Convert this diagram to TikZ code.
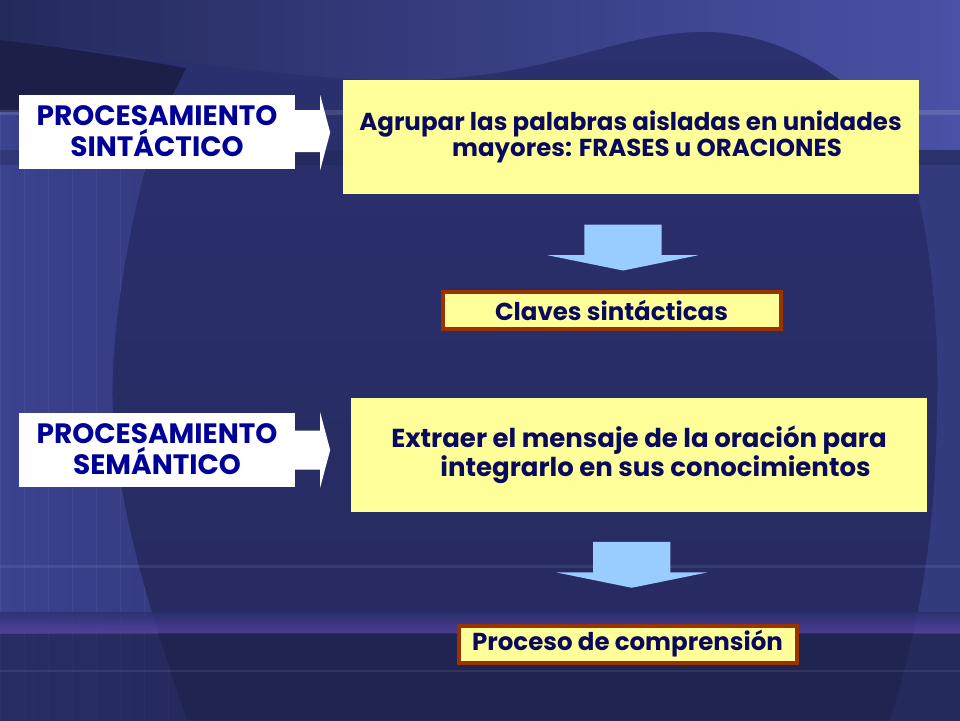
\documentclass[tikz,border=0pt]{standalone}
\usepackage{fontspec}
\setmainfont{Poppins}
\usetikzlibrary{arrows.meta, positioning, shapes.arrows, calc}

\definecolor{fondo}{HTML}{2B3070}
\definecolor{fondobajo}{HTML}{262A5E}
\definecolor{cielo}{HTML}{4A51A6}
\definecolor{cielooscuro}{HTML}{252A5C}
\definecolor{lateral}{HTML}{343A7E}
\definecolor{lateralclaro}{HTML}{3B4290}
\definecolor{oscuro}{HTML}{1C2048}
\definecolor{crema}{HTML}{FFFF99}
\definecolor{celeste}{HTML}{99CCFF}
\definecolor{ladrillo}{HTML}{993300}
\definecolor{marino}{HTML}{0A0A5C}
\definecolor{azulvivo}{HTML}{000099}

\begin{document}
\begin{tikzpicture}[
x=1pt, y=-1pt,
every node/.style={font=\bfseries\fontsize{25}{24}\selectfont, align=center, inner sep=0pt},
etiqueta/.style={rectangle, fill=white, text=azulvivo, font=\bfseries\fontsize{28}{31}\selectfont, minimum width=276pt, minimum height=74pt},
cuadro/.style={rectangle, fill=crema, text=marino, minimum width=576pt, minimum height=114pt},
clave/.style={rectangle, fill=crema, draw=ladrillo, line width=4pt, text=marino, font=\bfseries\fontsize{24.5}{24}\selectfont, minimum width=338pt, minimum height=37pt},
bajada/.style={single arrow, fill=celeste, rotate=-90, inner xsep=0pt, inner ysep=38.5pt, minimum height=46pt, single arrow head extend=36.5pt, single arrow tip angle=157},
flechablanca/.style={fill=white}
]

\shade[top color=fondo, bottom color=fondobajo] (0,0) rectangle (960,720);
\shade[left color=cielooscuro, right color=cielo] (0,0) -- (960,0) -- (960,150) -- (905,150) .. controls (870,95) and (800,35) .. (710,32) .. controls (620,30) and (560,75) .. (420,80) .. controls (330,84) and (200,62) .. (0,40) -- cycle;
\fill[oscuro] (0,40) .. controls (70,48) and (130,58) .. (186,68) .. controls (178,85) and (170,100) .. (163,112) -- (0,112) -- cycle;
\begin{scope}
\clip (0,112) -- (163,112) .. controls (140,170) and (108,320) .. (113,413) .. controls (118,520) and (160,640) .. (187,720) -- (0,720) -- cycle;
\shade[left color=lateralclaro, right color=lateral] (0,112) rectangle (190,720);
\draw[white, opacity=0.05, step=24] (0,112) grid (190,720);
\end{scope}
\fill[lateral] (960,150) -- (905,150) .. controls (930,220) and (940,330) .. (937,413) .. controls (935,550) and (915,640) .. (890,720) -- (960,720) -- cycle;
\fill[oscuro, opacity=0.3] (0,150) rectangle (960,165);
\fill[white, opacity=0.12] (0,110) rectangle (960,115);
\shade[top color=fondo, bottom color=cielo!80!violet, opacity=0.8] (0,612) rectangle (960,632);
\fill[oscuro, opacity=0.6] (0,634) rectangle (960,720);
\fill[white, opacity=0.08] (0,565) rectangle (960,568);
\fill[white, opacity=0.08] (0,670) rectangle (960,672);

\node[etiqueta] (sintactico) at (157,131.5) {PROCESAMIENTO\\SINTÁCTICO};
\node[cuadro, font=\bfseries\fontsize{24.5}{24}\selectfont] (agrupar) at (630.5,137) {Agrupar las palabras aisladas en unidades\\\hspace*{33pt}mayores: FRASES u ORACIONES};
\node[clave] (claves) at (611.5,310.5) {Claves sintácticas};
\node[etiqueta] (semantico) at (157,449.5) {PROCESAMIENTO\\SEMÁNTICO};
\node[cuadro, font=\bfseries\fontsize{26}{24}\selectfont] (extraer) at (639,455) {Extraer el mensaje de la oración para\\\hspace*{33pt}integrarlo en sus conocimientos};
\node[clave] (comprension) at (627.5,644) {Proceso de comprensión};

\fill[flechablanca] ([yshift=21.5pt]sintactico.east) -- ++(25,0) -- ++(0,-15) -- ++(10,37.5) -- ++(-10,37.5) -- ++(0,-18) -- ++(-25,0) -- cycle;
\fill[flechablanca] ([yshift=19pt]semantico.east) -- ++(25,0) -- ++(0,-18) -- ++(10,37.5) -- ++(-10,37.5) -- ++(0,-18) -- ++(-25,0) -- cycle;

\node[bajada] (paso1) at ([xshift=2pt, yshift=-1.5pt]$(agrupar.south)!0.5!(claves.north)$) {};
\node[bajada] (paso2) at ([xshift=-1.5pt, yshift=7pt]$(extraer.south)!0.5!(comprension.north)$) {};

\end{tikzpicture}
\end{document}
